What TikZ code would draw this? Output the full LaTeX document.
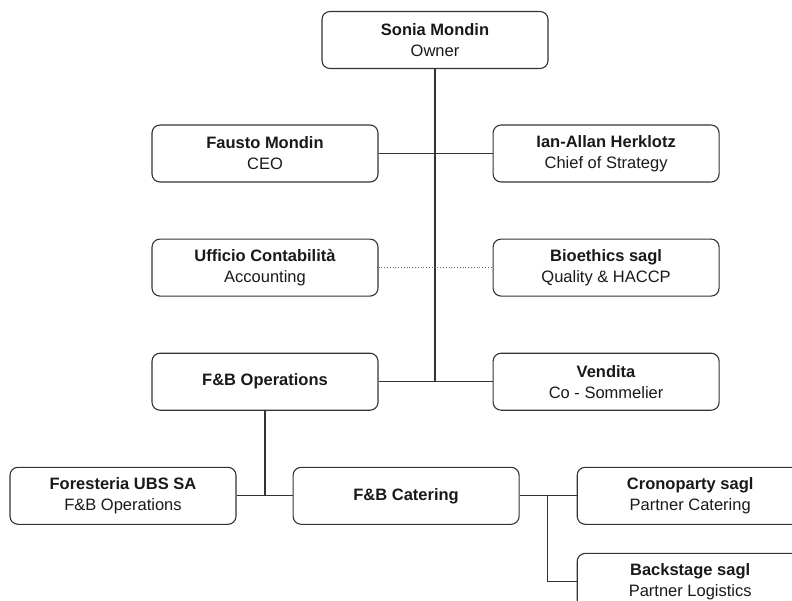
\documentclass[tikz,border=0pt]{standalone}
\usepackage{fontspec}
\setmainfont{Liberation Sans}
\usetikzlibrary{positioning}

\begin{document}
\begin{tikzpicture}[x=1pt, y=-1pt, node distance=56pt and 114pt, line width=1.1pt]
    \tikzstyle{box}=[rectangle, draw=black!80, rounded corners=8pt, align=center, minimum width=226pt, minimum height=57pt, inner sep=2pt, text=black!90, font=\fontsize{16.5}{21}\selectfont]
    \tikzstyle{link}=[draw=black!80]

    \useasboundingbox (0,0) rectangle (792,601);
    \clip (0,0) rectangle (792,601);

    \node[box] (owner) at (435,40) {\textbf{Sonia Mondin}\\Owner};
    \node[box] (ceo) at (265,153.5) {\textbf{Fausto Mondin}\\CEO};
    \node[box, right=of ceo] (strategy) {\textbf{Ian-Allan Herklotz}\\Chief of Strategy};
    \node[box, below=of ceo] (account) {\textbf{Ufficio Contabilità}\\Accounting};
    \node[box, below=of strategy] (quality) {\textbf{Bioethics sagl}\\Quality \& HACCP};
    \node[box, below=of account] (fbops) {\textbf{F\&B Operations}};
    \node[box, below=of quality] (sales) {\textbf{Vendita}\\Co - Sommelier};
    \node[box, below=of fbops, xshift=-142pt] (guest) {\textbf{Foresteria UBS SA}\\F\&B Operations};
    \node[box, right=56pt of guest] (catering) {\textbf{F\&B Catering}};
    \node[box, right=57pt of catering] (crono) {\textbf{Cronoparty sagl}\\Partner Catering};
    \node[box, below=28pt of crono] (backstage) {\textbf{Backstage sagl}\\Partner Logistics};

    \coordinate (split) at ([xshift=28pt]catering.east);

    \draw[link] (owner.south) -- (owner.south |- fbops.east);
    \draw[link] (ceo) -- (strategy);
    \draw[link, dotted, line width=0.8pt, draw=black!60] (account) -- (quality);
    \draw[link] (fbops) -- (sales);
    \draw[link] (fbops.south) -- (fbops.south |- guest.east);
    \draw[link] (guest) -- (catering);
    \draw[link] (catering) -- (crono);
    \draw[link] (split) |- (backstage.west);
\end{tikzpicture}
\end{document}
